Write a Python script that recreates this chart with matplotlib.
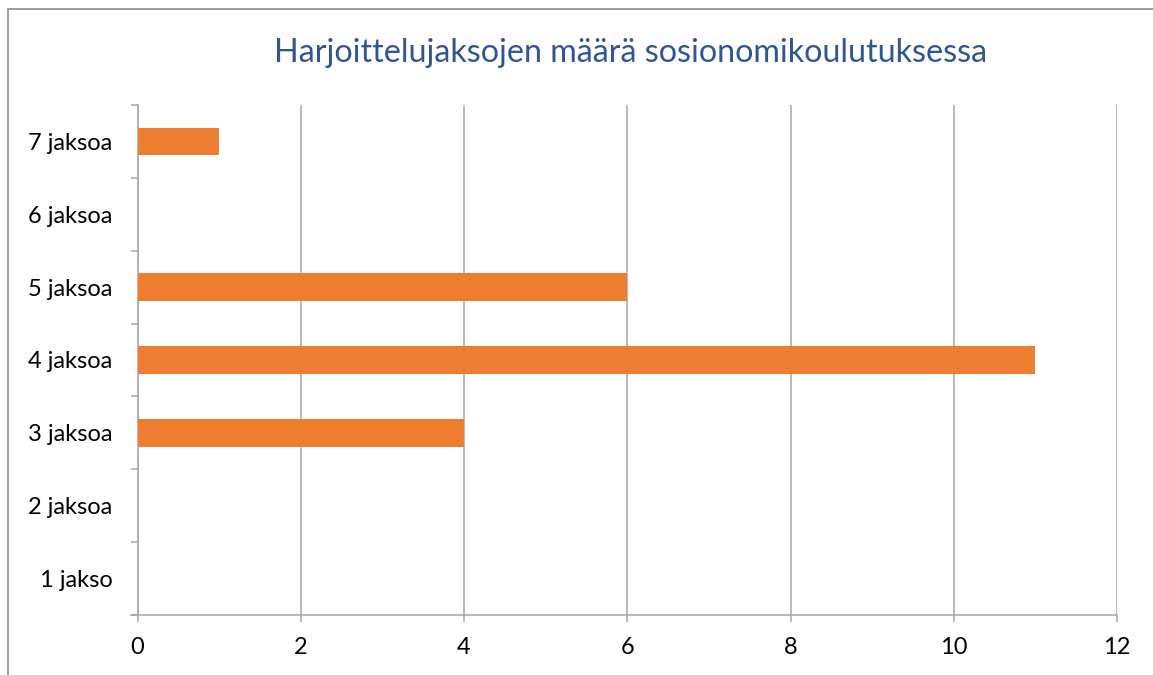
import matplotlib
matplotlib.use("Agg")
import matplotlib.pyplot as plt
from matplotlib.patches import Rectangle
import numpy as np

categories = ["1 jakso", "2 jaksoa", "3 jaksoa", "4 jaksoa", "5 jaksoa", "6 jaksoa", "7 jaksoa"]
values = [0, 0, 4, 11, 6, 0, 1]
x_ticks = [0, 2, 4, 6, 8, 10, 12]
title = "Harjoittelujaksojen määrä sosionomikoulutuksessa"

plt.rcParams['font.family'] = ['Lato', 'DejaVu Sans']

W, H = 1153, 675
fig = plt.figure(figsize=(W / 100, H / 100), dpi=100)
fig.patch.set_facecolor("white")

# outer chart border
fig.patches.append(Rectangle((8 / W, -0.1), 1.2, 1.1 - 9 / H, transform=fig.transFigure,
                             fill=False, edgecolor="#8c8c8c", linewidth=1.2, zorder=0))

ax = fig.add_axes([137.5 / W, (H - 615) / H, (1117 - 137.5) / W, (615 - 105) / H])

grid_c = "#a6a6a6"
y = np.arange(len(categories))
ax.barh(y, values, height=0.38, color="#ED7D31", zorder=3)

ax.set_xlim(0, 12)
ax.set_ylim(-0.5, len(categories) - 0.5)
ax.set_xticks(x_ticks)
ax.set_xticklabels([str(t) for t in x_ticks])
ax.xaxis.grid(True, color=grid_c, linewidth=1.1, zorder=0)

# category boundaries as major ticks, labels at centers
ax.set_yticks(np.arange(-0.5, len(categories), 1.0))
ax.set_yticklabels([])
ax.set_yticks(y, minor=True)
ax.set_yticklabels(categories, minor=True)
ax.tick_params(axis="y", which="major", length=5, width=1.1, color=grid_c, direction="out")
ax.tick_params(axis="y", which="minor", length=0, pad=18, labelsize=17)
ax.tick_params(axis="x", length=5, width=1.1, color=grid_c, direction="out", pad=11, labelsize=17)

for s in ["top", "right"]:
    ax.spines[s].set_visible(False)
for s in ["left", "bottom"]:
    ax.spines[s].set_color(grid_c)
    ax.spines[s].set_linewidth(1.1)
ax.spines["bottom"].set_bounds(-0.08, 12)

fig.text(631 / W, 1 - 53 / H, title, ha="center", va="center", fontsize=23.2, color="#2F5597")

fig.savefig("out.png", dpi=100)
